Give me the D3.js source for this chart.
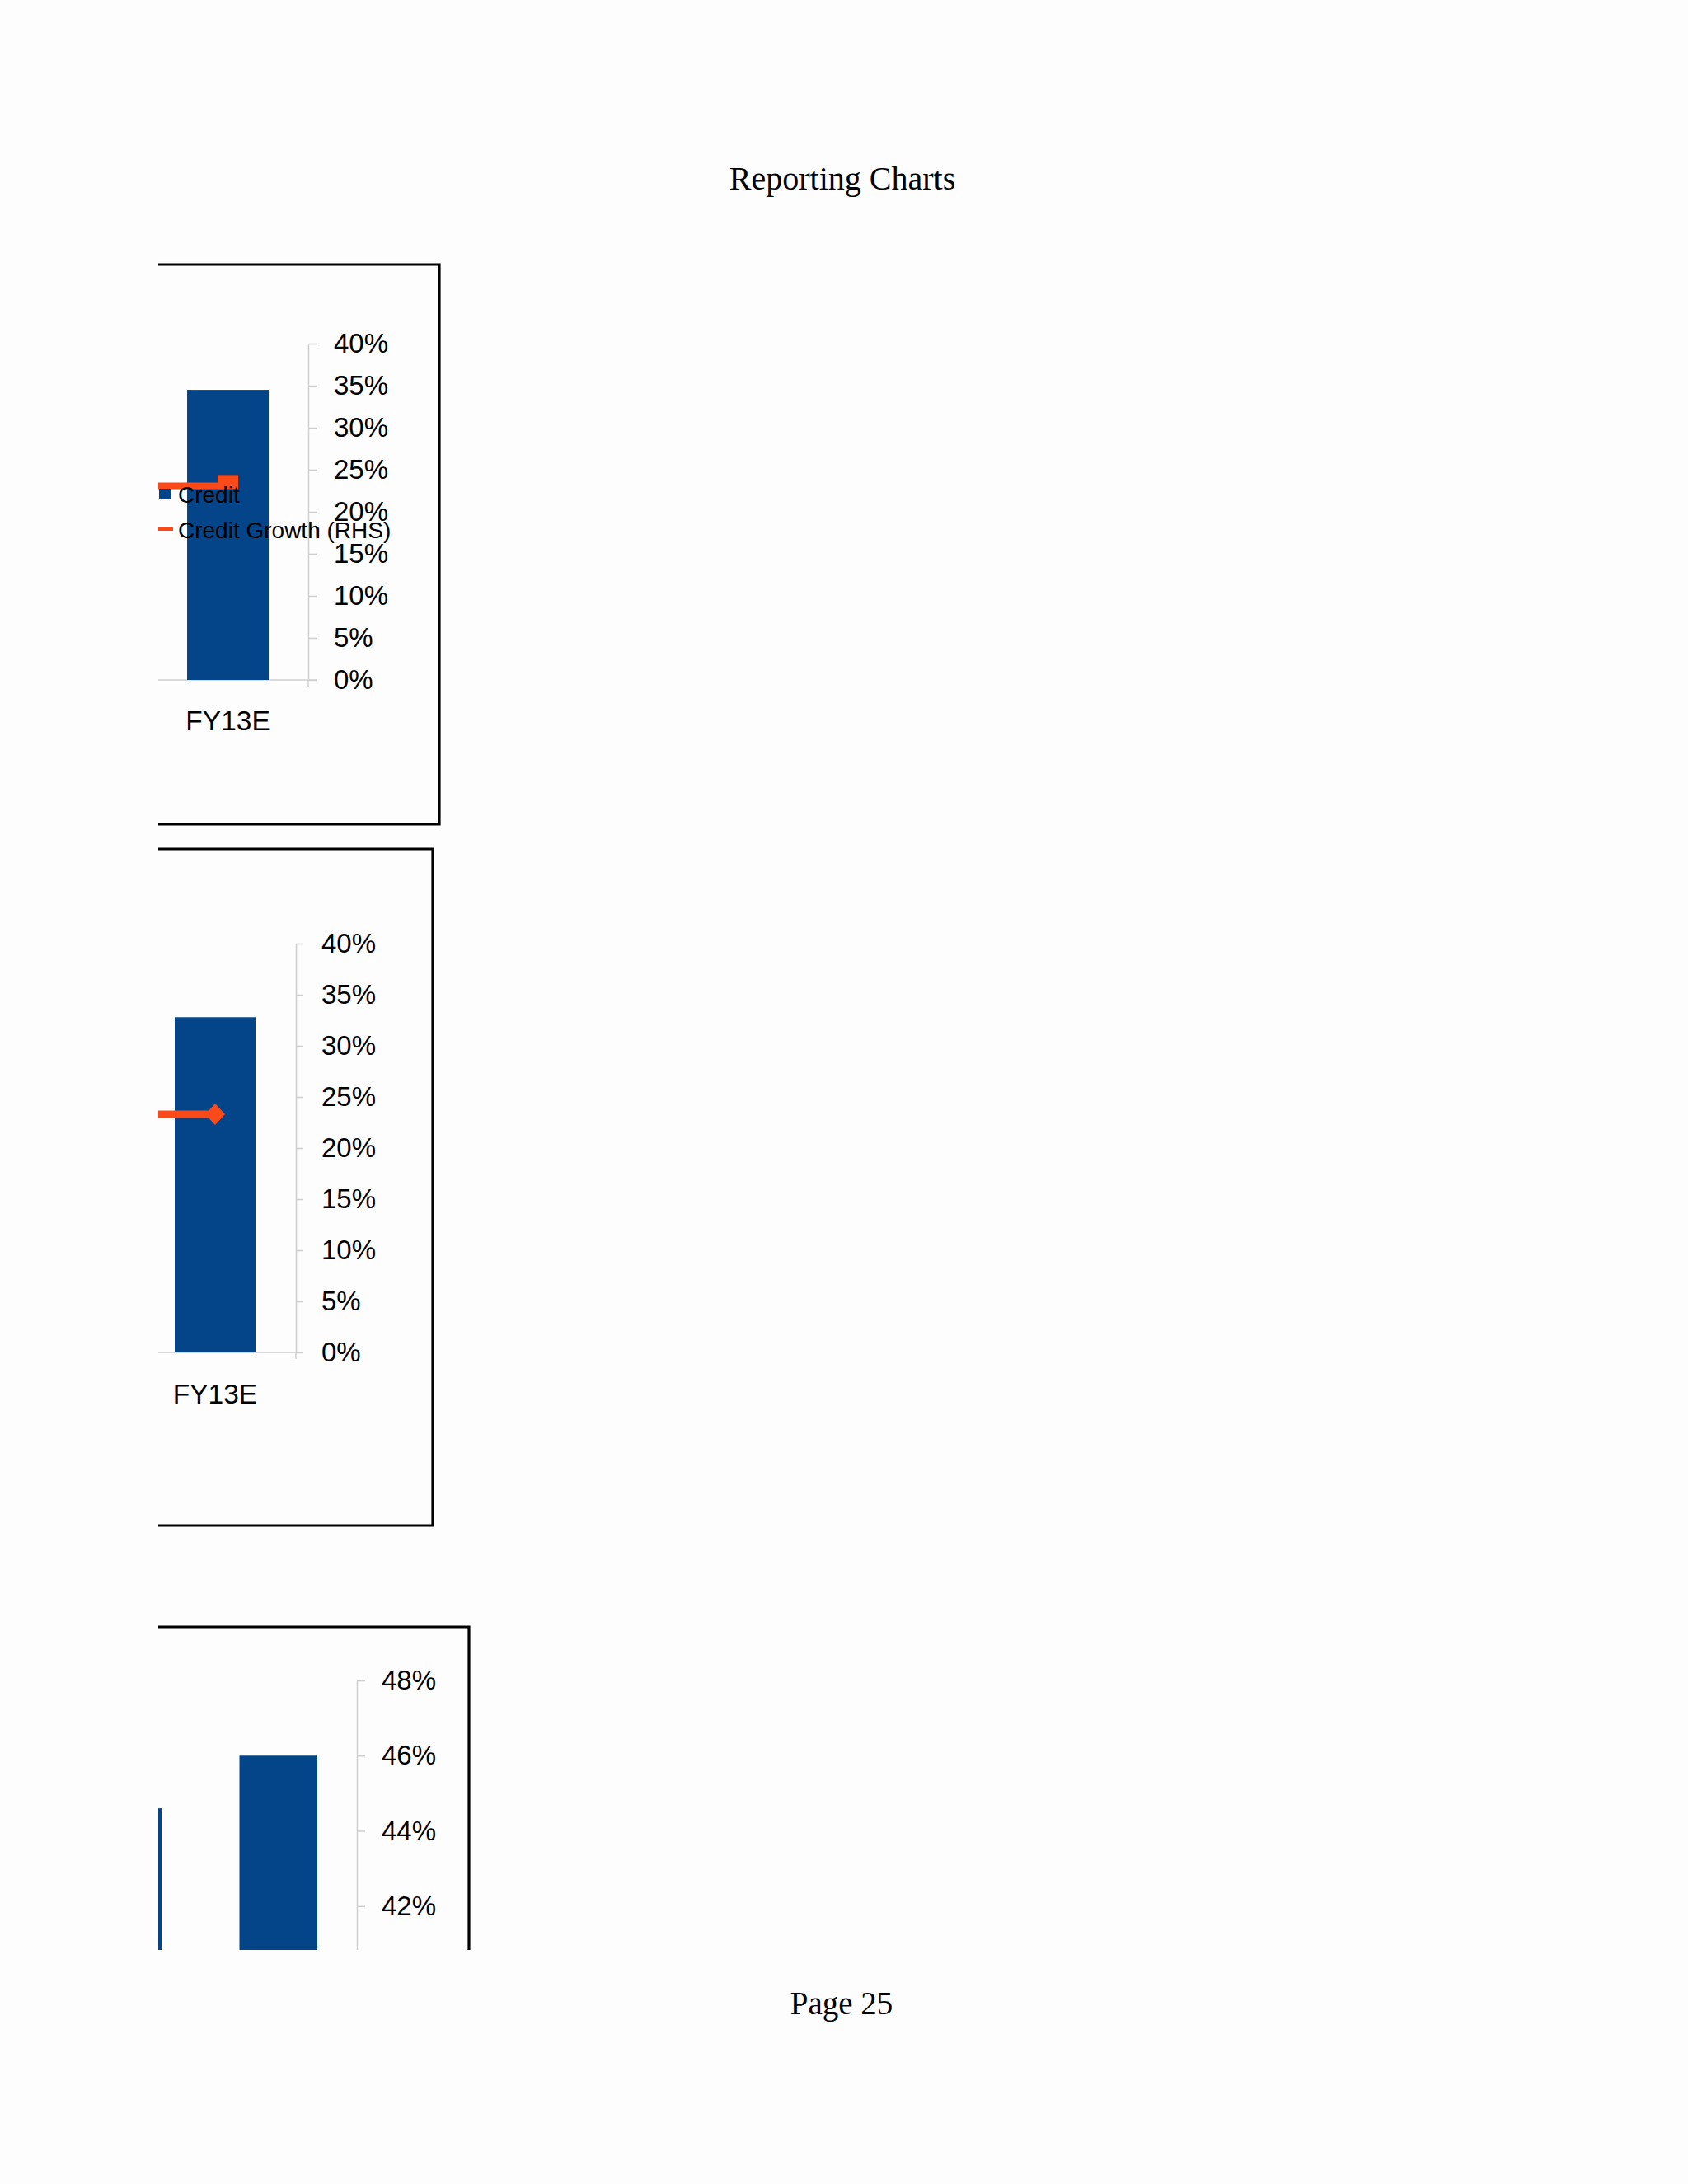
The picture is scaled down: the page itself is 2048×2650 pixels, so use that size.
<!DOCTYPE html>
<html>
<head>
<meta charset="utf-8">
<script src="https://cdn.jsdelivr.net/npm/d3@7/dist/d3.min.js"></script>
<style>
  html, body { margin: 0; padding: 0; background: #fdfdfd; }
  svg { display: block; }
</style>
</head>
<body>
<script>
// ---------- data ----------
const categories = ["FY12", "FY13E"];
// Chart 1: Credit (bars) and Credit Growth (RHS, line), %
const credit1 = [null, 34.5];
const creditGrowth1 = [23.1, 23.1];
// Chart 2
const credit2 = [null, 32.8];
const creditGrowth2 = [23.3, 23.3];
// Chart 3
const ratio3 = [44.6, 46.0];
// tick labels
const ticks12 = [0, 5, 10, 15, 20, 25, 30, 35, 40];
const ticks3 = [40, 42, 44, 46, 48];
const legendLabels = ["Credit", "Credit Growth (RHS)"];
const pageTitle = "Reporting Charts";
const pageFooter = "Page 25";

// ---------- styles ----------
const BLUE = "#04458a";
const ORANGE = "#fa4a1a";
const GRID = "#cfcfcf";
const SANS = "'Liberation Sans', Arial, sans-serif";
const SERIF = "'Liberation Serif', 'Times New Roman', serif";

const W = 2048, H = 2650;
const svg = d3.select("body").append("svg").attr("width", W).attr("height", H);
svg.append("rect").attr("width", W).attr("height", H).attr("fill", "#fdfdfd");

svg.append("text").attr("x", 1022).attr("y", 230).attr("text-anchor", "middle")
  .attr("font-family", SERIF).attr("font-size", 40).attr("fill", "#000").text(pageTitle);
svg.append("text").attr("x", 1021).attr("y", 2444).attr("text-anchor", "middle")
  .attr("font-family", SERIF).attr("font-size", 39).attr("fill", "#000").text(pageFooter);

const defs = svg.append("defs");

function drawChart(cfg) {
  const id = cfg.id;
  defs.append("clipPath").attr("id", id).append("rect")
    .attr("x", cfg.clip[0]).attr("y", cfg.clip[1])
    .attr("width", cfg.clip[2] - cfg.clip[0]).attr("height", cfg.clip[3] - cfg.clip[1]);
  const g = svg.append("g").attr("clip-path", `url(#${id})`);

  const x = d3.scaleBand().domain(categories).range(cfg.xRange)
    .paddingInner(0.5).paddingOuter(cfg.padOuter);
  const y = d3.scaleLinear().domain(cfg.yDomain).range(cfg.yRange);

  if (cfg.baseline) {
    g.append("line").attr("x1", cfg.clip[0]).attr("x2", cfg.axisX + cfg.tickSize)
      .attr("y1", y(cfg.yDomain[0])).attr("y2", y(cfg.yDomain[0]))
      .attr("stroke", GRID).attr("stroke-width", 1.5);
  }

  g.selectAll("rect.bar").data(categories.map((c, i) => ({ c, v: cfg.bars[i] })).filter(d => d.v != null))
    .join("rect").attr("class", "bar")
    .attr("x", d => x(d.c)).attr("width", x.bandwidth())
    .attr("y", d => y(d.v)).attr("height", d => y(cfg.yDomain[0]) - y(d.v))
    .attr("fill", BLUE);

  const axis = d3.axisRight(y).tickValues(cfg.ticks).tickSize(cfg.tickSize).tickSizeOuter(0)
    .tickPadding(cfg.tickPad).tickFormat(d => d + "%");
  const ag = g.append("g").attr("transform", `translate(${cfg.axisX},0)`).call(axis);
  ag.select(".domain").attr("stroke", GRID).attr("stroke-width", 1.5);
  ag.selectAll(".tick line").attr("stroke", GRID).attr("stroke-width", 1.5);
  ag.selectAll(".tick text").attr("font-family", SANS).attr("font-size", cfg.fontSize)
    .attr("fill", "#000");
  g.append("line").attr("x1", cfg.axisX).attr("x2", cfg.axisX)
    .attr("y1", y(cfg.yDomain[0])).attr("y2", y(cfg.yDomain[0]) + 8)
    .attr("stroke", GRID).attr("stroke-width", 1.5);

  g.selectAll("text.cat").data(categories).join("text").attr("class", "cat")
    .attr("x", d => x(d) + x.bandwidth() / 2).attr("y", cfg.catY)
    .attr("text-anchor", "middle").attr("font-family", SANS).attr("font-size", cfg.fontSize + 0.5)
    .attr("fill", "#000").text(d => d);

  if (cfg.line) {
    const pts = categories.map((c, i) => [x(c) + x.bandwidth() / 2, y(cfg.line[i])]);
    g.append("path").attr("d", d3.line()(pts)).attr("fill", "none")
      .attr("stroke", ORANGE).attr("stroke-width", cfg.lineWidth);
    pts.forEach(p => {
      if (cfg.marker === "rect") {
        g.append("rect").attr("x", p[0] - 12.5).attr("y", p[1] - 13)
          .attr("width", 25).attr("height", 17).attr("fill", ORANGE);
      } else {
        g.append("path")
          .attr("d", `M${p[0] - 12},${p[1]} L${p[0]},${p[1] - 13} L${p[0] + 12},${p[1]} L${p[0]},${p[1] + 13} Z`)
          .attr("fill", ORANGE);
      }
    });
  }

  if (cfg.legend) {
    const L = cfg.legend;
    g.append("rect").attr("x", L.x).attr("y", L.y1 - 7).attr("width", 14).attr("height", 13)
      .attr("fill", BLUE);
    g.append("text").attr("x", L.tx).attr("y", L.y1 + 10).attr("font-family", SANS)
      .attr("font-size", 28).attr("fill", "#000").text(legendLabels[0]);
    g.append("line").attr("x1", L.x - 2).attr("x2", L.x + 17).attr("y1", L.y2).attr("y2", L.y2)
      .attr("stroke", ORANGE).attr("stroke-width", 4);
    g.append("text").attr("x", L.tx).attr("y", L.y2 + 11).attr("font-family", SANS)
      .attr("font-size", 28).attr("fill", "#000").text(legendLabels[1]);
  }

  const b = cfg.box;
  const frame = [[cfg.clip[0], b.top], [b.right, b.top], [b.right, b.bottom]];
  if (b.closed) frame.push([cfg.clip[0], b.bottom]);
  g.append("path").attr("d", d3.line()(frame)).attr("fill", "none")
    .attr("stroke", "#000").attr("stroke-width", 3.2);
}

drawChart({
  id: "c1", clip: [192, 300, 545, 1010],
  bars: credit1, line: creditGrowth1, marker: "rect", lineWidth: 8,
  xRange: [-19, 374], padOuter: 0.242,
  yDomain: [0, 40], yRange: [825, 417], ticks: ticks12,
  axisX: 374, tickSize: 11, tickPad: 20, fontSize: 33, catY: 886, baseline: true,
  legend: { x: 193, tx: 216, y1: 600, y2: 642 },
  box: { top: 321, right: 533, bottom: 1000, closed: true }
});

drawChart({
  id: "c2", clip: [192, 1010, 540, 1865],
  bars: credit2, line: creditGrowth2, marker: "diamond", lineWidth: 9,
  xRange: [-33, 359], padOuter: 0.25,
  yDomain: [0, 40], yRange: [1641, 1145], ticks: ticks12,
  axisX: 359, tickSize: 9, tickPad: 22, fontSize: 33, catY: 1703, baseline: true,
  box: { top: 1030, right: 525, bottom: 1851, closed: true }
});

drawChart({
  id: "c3", clip: [192, 1950, 585, 2366],
  bars: ratio3, line: null,
  xRange: [53.5, 433], padOuter: 0.254,
  yDomain: [40, 48], yRange: [2404, 2039], ticks: ticks3,
  axisX: 433, tickSize: 10, tickPad: 20, fontSize: 33, catY: 2460, baseline: false,
  box: { top: 1974, right: 569, bottom: 2400, closed: false }
});
</script>
</body>
</html>
